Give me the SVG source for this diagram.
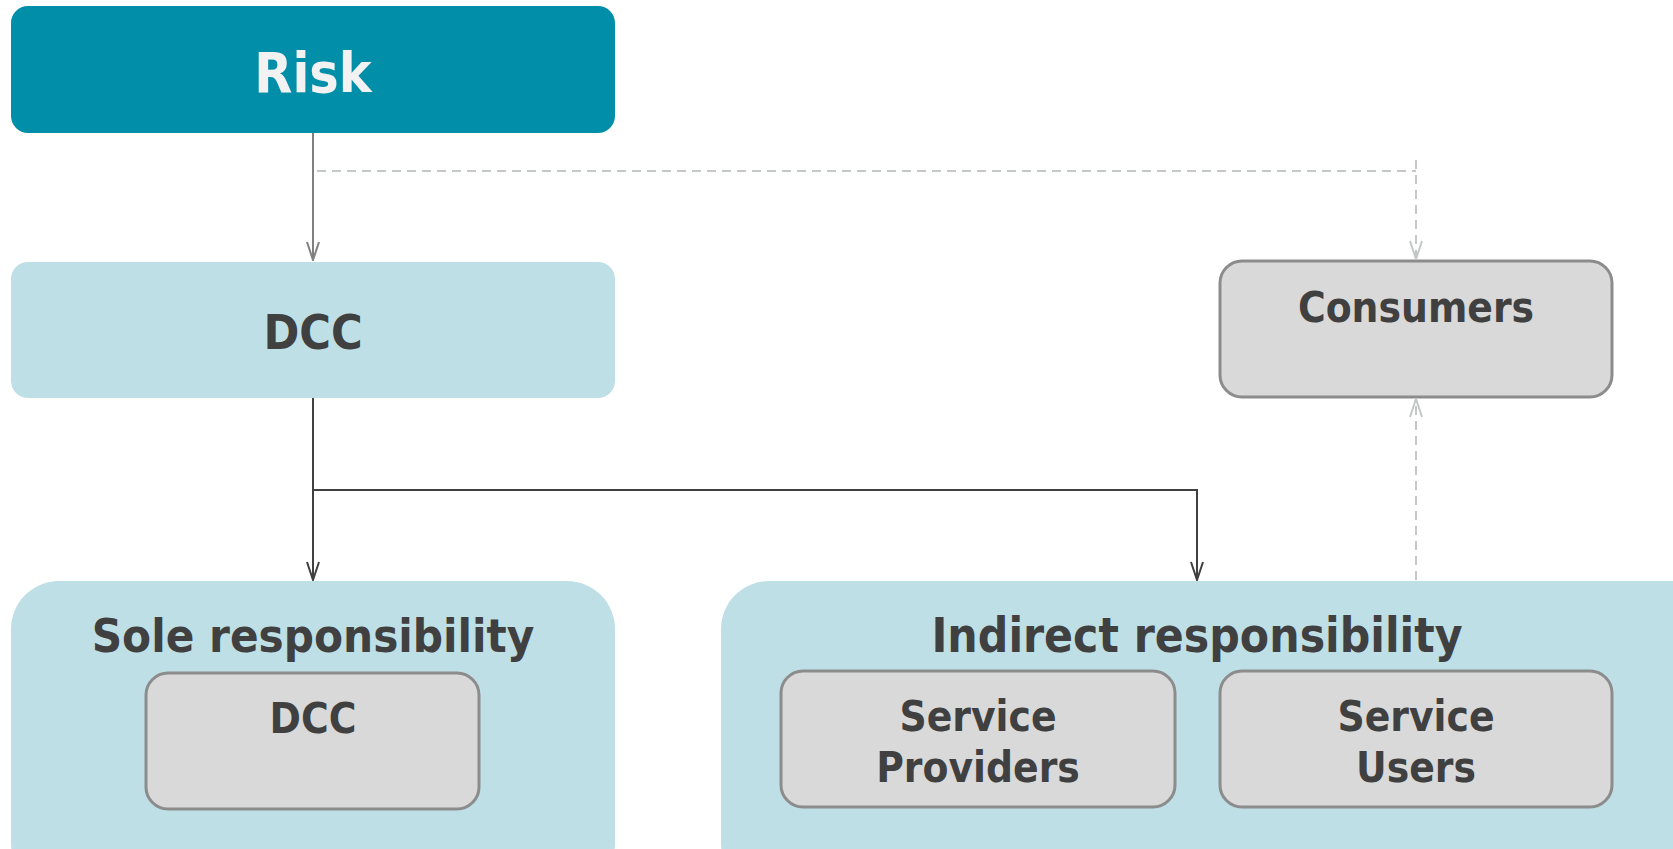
<svg xmlns="http://www.w3.org/2000/svg" width="1673" height="849" viewBox="0 0 1673 849">
<defs>
<style>
text{font-family:"DejaVu Sans Condensed","DejaVu Sans",sans-serif;font-stretch:condensed;font-weight:bold;text-anchor:middle;fill:#404040}
.teal{fill:#008ea9}
.light{fill:#bedfe5}
.gray{fill:#d9d9d9;stroke:#8c8c8c;stroke-width:3}
.solid{fill:none;stroke:#404040;stroke-width:2}
.grayline{fill:none;stroke:#808080;stroke-width:2}
.dash{fill:none;stroke:#c3c8c6;stroke-width:2;stroke-dasharray:9 6}
</style>
<marker id="arrDark" viewBox="0 0 20 14" refX="19" refY="7" markerWidth="20" markerHeight="14" markerUnits="userSpaceOnUse" orient="auto">
<path d="M1,1 L19,7 L1,13" fill="none" stroke="#404040" stroke-width="2"/>
</marker>
<marker id="arrGray" viewBox="0 0 20 14" refX="19" refY="7" markerWidth="20" markerHeight="14" markerUnits="userSpaceOnUse" orient="auto">
<path d="M1,1 L19,7 L1,13" fill="none" stroke="#808080" stroke-width="2"/>
</marker>
<marker id="arrLight" viewBox="0 0 20 14" refX="19" refY="7" markerWidth="20" markerHeight="14" markerUnits="userSpaceOnUse" orient="auto">
<path d="M1,1 L19,7 L1,13" fill="none" stroke="#c3c8c6" stroke-width="2"/>
</marker>
</defs>
<rect width="1673" height="849" fill="#ffffff"/>
<g id="risk">
<rect class="teal" x="11" y="6" width="604" height="127" rx="17"/>
<text x="313" y="92" font-size="55" style="fill:#f2f2f2">Risk</text>
</g>
<g id="dcc-top">
<rect class="light" x="11" y="262" width="604" height="136" rx="17"/>
<text x="313" y="349" font-size="48">DCC</text>
</g>
<g id="consumers">
<rect class="gray" x="1220" y="261" width="392" height="136" rx="22"/>
<text x="1416" y="322" font-size="42">Consumers</text>
</g>
<g id="sole">
<rect class="light" x="11" y="581" width="604" height="310" rx="48"/>
<text x="313" y="652" font-size="47">Sole responsibility</text>
<g id="sole-dcc">
<rect class="gray" x="146" y="673" width="333" height="136" rx="22"/>
<text x="313" y="733" font-size="42">DCC</text>
</g>
</g>
<g id="indirect">
<rect class="light" x="721" y="581" width="1000" height="310" rx="48"/>
<text x="1197" y="652" font-size="47.5">Indirect responsibility</text>
<g id="providers">
<rect class="gray" x="781" y="671" width="394" height="136" rx="22"/>
<text x="978" y="731" font-size="42">Service</text>
<text x="978" y="782" font-size="42">Providers</text>
</g>
<g id="users">
<rect class="gray" x="1220" y="671" width="392" height="136" rx="22"/>
<text x="1416" y="731" font-size="42">Service</text>
<text x="1416" y="782" font-size="42">Users</text>
</g>
</g>
<g id="connectors">
<path class="grayline" d="M313,133 L313,260" marker-end="url(#arrGray)"/>
<path class="dash" d="M317,171 L1416,171"/>
<path class="dash" d="M1416,160 L1416,259" marker-end="url(#arrLight)"/>
<path class="solid" d="M313,398 L313,580" marker-end="url(#arrDark)"/>
<path class="solid" d="M313,490 L1197,490 L1197,580" marker-end="url(#arrDark)"/>
<path class="dash" d="M1416,580 L1416,399" marker-end="url(#arrLight)"/>
</g>
</svg>
